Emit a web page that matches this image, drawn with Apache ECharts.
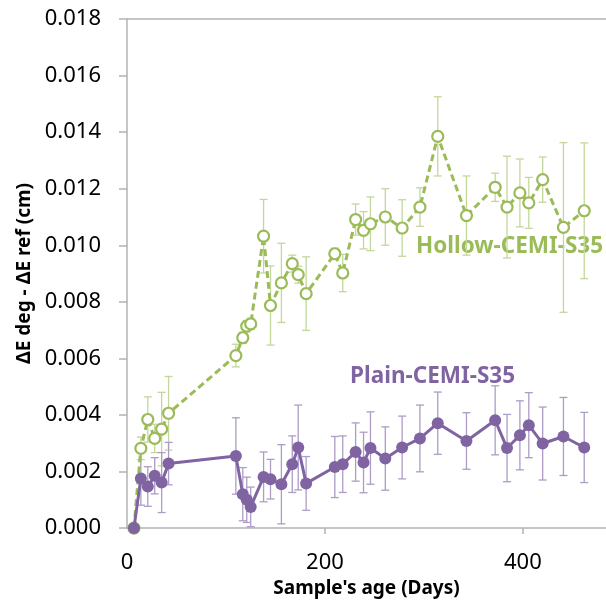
<!DOCTYPE html>
<html>
<head>
<meta charset="utf-8">
<script src="https://cdn.jsdelivr.net/npm/echarts@6/dist/echarts.min.js"></script>
<style>html,body{margin:0;padding:0;background:#fff}#c{width:606px;height:603px}</style>
</head>
<body>
<div id="c"></div>
<script>
var days = [7,14,21,28,35,42,110,117,121,125,138,145,156,167,173,181,210,218,231,239,246,261,278,296,314,343,372,384,397,406,420,441,462];
var hollow = [0,0.00282,0.00384,0.00317,0.0035,0.00406,0.0061,0.00673,0.00714,0.00722,0.01032,0.00787,0.00867,0.00935,0.00896,0.00829,0.0097,0.00902,0.01091,0.01053,0.01076,0.011,0.01061,0.01135,0.01385,0.01105,0.01205,0.01135,0.01185,0.0115,0.01232,0.01063,0.01122];
var hollowErr = [0,0.0004,0.0008,0.0005,0.0013,0.0013,0.0004,0.0002,0.0002,0.0002,0.0013,0.0014,0.0014,0.0003,0.0003,0.0013,0.0002,0.00066,0.00055,0.00066,0.00095,0.001,0.001,0.00068,0.0014,0.0014,0.0005,0.0018,0.0012,0.0009,0.0008,0.003,0.0024];
var plain = [0,0.00175,0.00147,0.00185,0.00161,0.00228,0.00255,0.0012,0.001,0.00075,0.00181,0.00173,0.00155,0.00226,0.00285,0.00158,0.00216,0.00226,0.00269,0.00232,0.00283,0.00246,0.00285,0.00317,0.00371,0.00308,0.00381,0.00283,0.00328,0.00364,0.00299,0.00324,0.00285];
var plainErr = [0,0.00094,0.0007,0.00064,0.00106,0.00075,0.00135,0.00094,0.0008,0.0007,0.00088,0.0007,0.0014,0.001,0.0015,0.00095,0.00108,0.001,0.00103,0.00107,0.00128,0.00112,0.00111,0.00118,0.0011,0.001,0.00122,0.00119,0.00122,0.00115,0.00129,0.00138,0.00124];
var yTicks = [0,0.002,0.004,0.006,0.008,0.010,0.012,0.014,0.016,0.018];
var xLabels = [0,200,400];

var FONT = 'Noto Sans';
var GREEN = '#9bbb59', GREEN_ERR = '#c4d79b';
var PURPLE = '#8064a2', PURPLE_ERR = '#ad9cc6';

function pts(v){ return days.map(function(d,i){ return [d, v[i]]; }); }
function errData(v,e){ return days.map(function(d,i){ return [d, v[i]-e[i], v[i]+e[i]]; }).filter(function(r,i){return e[i]>0;}); }
function errRender(color){
  return function(params, api){
    var lo = api.coord([api.value(0), api.value(1)]);
    var hi = api.coord([api.value(0), api.value(2)]);
    var w = 4;
    var st = {stroke: color, lineWidth: 1.3};
    return {type:'group', children:[
      {type:'line', shape:{x1:lo[0],y1:lo[1],x2:hi[0],y2:hi[1]}, style:st},
      {type:'line', shape:{x1:lo[0]-w,y1:lo[1],x2:lo[0]+w,y2:lo[1]}, style:st},
      {type:'line', shape:{x1:hi[0]-w,y1:hi[1],x2:hi[0]+w,y2:hi[1]}, style:st}
    ]};
  };
}

var chart = echarts.init(document.getElementById('c'), null, {renderer:'canvas'});
chart.setOption({
  animation:false,
  backgroundColor:'#fff',
  grid:{left:127, top:19, right:0, bottom:74},
  xAxis:[{
    type:'value', min:0, max:484, interval:200,
    name:"Sample's age (Days)", nameLocation:'middle', nameGap:50,
    nameTextStyle:{fontFamily:FONT, fontWeight:'bold', fontSize:19, color:'#000'},
    axisLine:{show:true, lineStyle:{color:'#b3b3b3', width:1.5}},
    axisTick:{show:true, length:6, lineStyle:{color:'#b3b3b3', width:1.5}, customValues:[200,400]},
    axisLabel:{fontFamily:FONT, fontSize:22, color:'#000', margin:24, customValues:xLabels},
    splitLine:{show:false}
  },{
    type:'value', position:'top', min:0, max:484,
    axisLine:{show:true, lineStyle:{color:'#b3b3b3', width:1.5}},
    axisTick:{show:false}, axisLabel:{show:false}, splitLine:{show:false}
  }],
  yAxis:{
    type:'value', min:0, max:0.018, interval:0.002,
    name:'ΔE deg - ΔE ref (cm)', nameLocation:'middle', nameGap:88,
    nameTextStyle:{fontFamily:FONT, fontWeight:'bold', fontSize:19, color:'#000'},
    axisLine:{show:true, lineStyle:{color:'#b3b3b3', width:1.5}},
    axisTick:{show:true, length:8, lineStyle:{color:'#b3b3b3', width:1.5}},
    axisLabel:{fontFamily:FONT, fontSize:22, color:'#000', margin:26,
      formatter:function(v){ return v.toFixed(3); }},
    splitLine:{show:false}
  },
  graphic:[
    {type:'text', left:416, top:235, style:{text:'Hollow-CEMI-S35', fill:GREEN, font:'bold 22.5px "Noto Sans"'}},
    {type:'text', left:350, top:365, style:{text:'Plain-CEMI-S35', fill:PURPLE, font:'bold 22.5px "Noto Sans"'}}
  ],
  series:[
    {type:'custom', renderItem:errRender(GREEN_ERR), data:errData(hollow,hollowErr), encode:{x:0,y:[1,2]}, z:1, silent:true},
    {type:'custom', renderItem:errRender(PURPLE_ERR), data:errData(plain,plainErr), encode:{x:0,y:[1,2]}, z:1, silent:true},
    {type:'line', data:pts(hollow), z:3, symbol:'circle', symbolSize:11, showAllSymbol:true,
      lineStyle:{color:GREEN, width:3, type:[7,4]},
      itemStyle:{color:'#ffffff', borderColor:GREEN, borderWidth:2.2}},
    {type:'line', data:pts(plain), z:4, symbol:'circle', symbolSize:12, showAllSymbol:true,
      lineStyle:{color:PURPLE, width:3},
      itemStyle:{color:PURPLE, borderColor:PURPLE, borderWidth:0}}
  ]
});
</script>
</body>
</html>
